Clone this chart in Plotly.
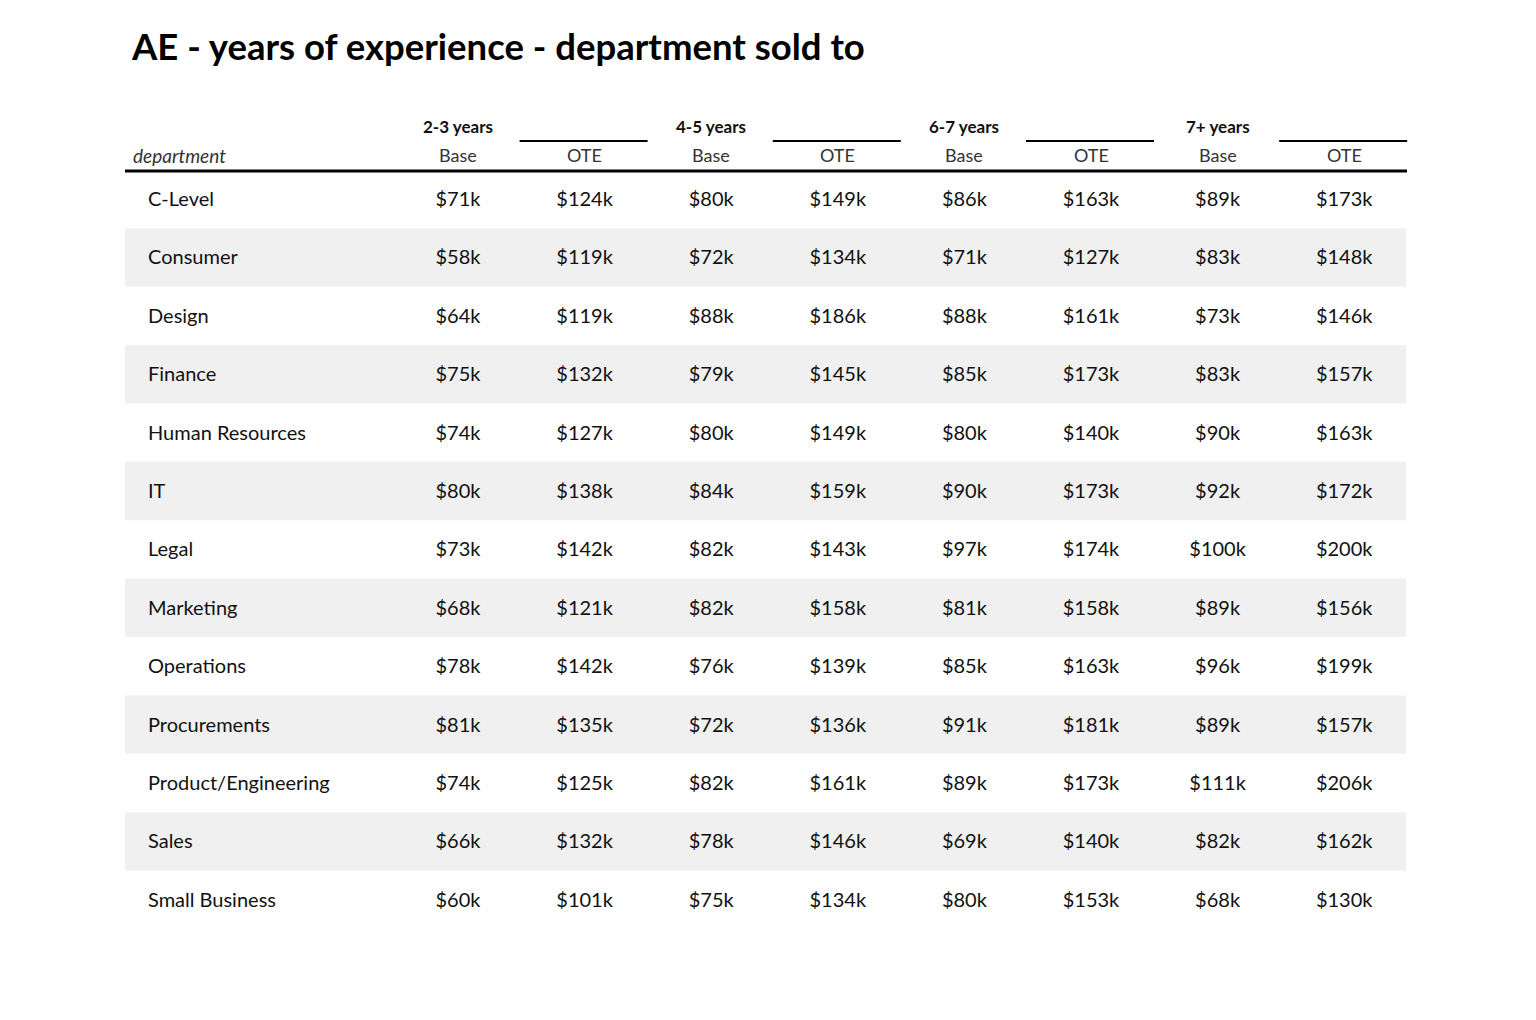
import plotly.graph_objects as go

title = "AE - years of experience - department sold to"
departments = ["C-Level", "Consumer", "Design", "Finance", "Human Resources", "IT", "Legal",
               "Marketing", "Operations", "Procurements", "Product/Engineering", "Sales", "Small Business"]
groups = ["2-3 years", "4-5 years", "6-7 years", "7+ years"]
subcols = ["Base", "OTE"]

base_2_3 = [71, 58, 64, 75, 74, 80, 73, 68, 78, 81, 74, 66, 60]
ote_2_3 = [124, 119, 119, 132, 127, 138, 142, 121, 142, 135, 125, 132, 101]
base_4_5 = [80, 72, 88, 79, 80, 84, 82, 82, 76, 72, 82, 78, 75]
ote_4_5 = [149, 134, 186, 145, 149, 159, 143, 158, 139, 136, 161, 146, 134]
base_6_7 = [86, 71, 88, 85, 80, 90, 97, 81, 85, 91, 89, 69, 80]
ote_6_7 = [163, 127, 161, 173, 140, 173, 174, 158, 163, 181, 173, 140, 153]
base_7p = [89, 83, 73, 83, 90, 92, 100, 89, 96, 89, 111, 82, 68]
ote_7p = [173, 148, 146, 157, 163, 172, 200, 156, 199, 157, 206, 162, 130]

columns = [base_2_3, ote_2_3, base_4_5, ote_4_5, base_6_7, ote_6_7, base_7p, ote_7p]

W, H = 1536, 1020
PAGE_MARGIN = 8  # default body margin of the html page
FONT = "Lato, 'Open Sans', sans-serif"
TXT = "#111111"

# layout geometry (screen pixel space)
x_left, x_right = 125, 1406
dept_x = 148
col0_x, col_dx = 458, 126.6
row0_y, row_dy = 199, 58.4
text_dy = 2
sub_y, grp_y, rule_y, span_y = 155, 126, 171, 141

fig = go.Figure()
shapes = []
annotations = []

# striped row backgrounds
for i in range(len(departments)):
    if i % 2 == 1:
        yc = row0_y + i * row_dy
        shapes.append(dict(type="rect", xref="x", yref="y", x0=x_left, x1=x_right,
                           y0=yc - row_dy / 2, y1=yc + row_dy / 2,
                           fillcolor="#f0f0f0", line=dict(width=0), layer="below"))

# header rule
shapes.append(dict(type="line", xref="x", yref="y", x0=x_left, x1=x_right + 1,
                   y0=rule_y, y1=rule_y, line=dict(color="#000", width=3)))

# department labels
ys = [row0_y + text_dy + i * row_dy for i in range(len(departments))]
fig.add_trace(go.Scatter(x=[dept_x] * len(departments), y=ys, mode="text",
                         text=departments, textposition="middle right",
                         textfont=dict(family=FONT, size=20, color=TXT),
                         hoverinfo="skip", showlegend=False))

# cell values
for j, col in enumerate(columns):
    xc = col0_x + j * col_dx
    fig.add_trace(go.Scatter(x=[xc] * len(col), y=ys, mode="text",
                             text=[f"${v}k" for v in col], textposition="middle center",
                             textfont=dict(family=FONT, size=20, color=TXT),
                             hoverinfo="skip", showlegend=False))

# sub headers
annotations.append(dict(x=131, y=sub_y, xref="x", yref="y", text="<i>department</i>",
                        showarrow=False, xanchor="left", yanchor="middle",
                        font=dict(family=FONT, size=19, color="#333")))
for j in range(len(columns)):
    xc = col0_x + j * col_dx
    annotations.append(dict(x=xc, y=sub_y, xref="x", yref="y", text=subcols[j % 2],
                            showarrow=False, xanchor="center", yanchor="middle",
                            font=dict(family=FONT, size=18, color="#333")))

# group spanners
for g, name in enumerate(groups):
    xb = col0_x + (2 * g) * col_dx
    xo = col0_x + (2 * g + 1) * col_dx
    annotations.append(dict(x=xb, y=grp_y, xref="x", yref="y", text=f"<b>{name}</b>",
                            showarrow=False, xanchor="center", yanchor="middle",
                            font=dict(family=FONT, size=17, color=TXT)))
    shapes.append(dict(type="line", xref="x", yref="y", x0=xo - 65, x1=xo + 63,
                       y0=span_y, y1=span_y, line=dict(color="#000", width=2)))

# title
annotations.append(dict(x=129, y=46, xref="x", yref="y", text=f"<b>{title}</b>",
                        showarrow=False, xanchor="left", yanchor="middle",
                        font=dict(family=FONT, size=36.5, color="#000")))

fig.update_layout(
    width=W, height=H,
    margin=dict(l=0, r=0, t=0, b=0),
    paper_bgcolor="white", plot_bgcolor="white",
    xaxis=dict(range=[PAGE_MARGIN, W + PAGE_MARGIN], visible=False, fixedrange=True),
    yaxis=dict(range=[H + PAGE_MARGIN, PAGE_MARGIN], visible=False, fixedrange=True),
    shapes=shapes, annotations=annotations,
)

fig.write_html("out.html")
